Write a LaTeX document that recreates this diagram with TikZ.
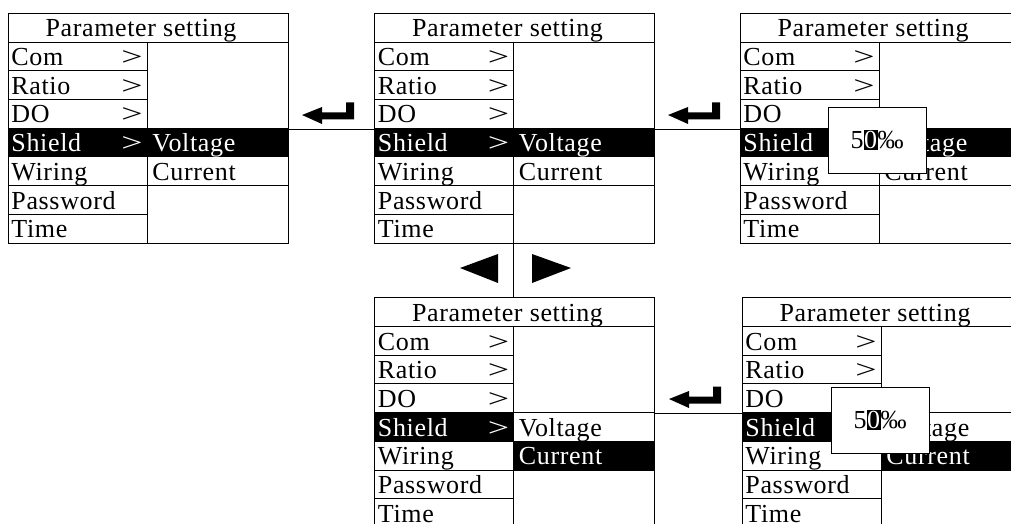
\documentclass[tikz,border=0pt]{standalone}
\usepackage{fontspec}
\setmainfont[LetterSpace=2.5]{Liberation Serif}

\tikzset{
  item/.style={anchor=base west,inner sep=0pt},
  popup/.style={draw,fill=white,minimum width=98pt,minimum height=66pt,inner sep=0pt},
  enterkey/.pic={\fill (0,0) -- (20,-8) -- (20,-2.5) -- (44,-2.5) -- (44,-12.5) -- (52,-12.5) -- (52,4.5) -- (20,4.5) -- (20,9) -- cycle;}
}

\newcommand{\curdigit}[1]{{\setlength{\fboxsep}{0pt}\colorbox{black}{\rule[-2pt]{0pt}{20pt}\makebox[14pt]{\textcolor{white}{#1}}}}}

% name, left, top, selected entry on the right (4 = Voltage, 5 = Current)
\newcommand{\paramscreen}[4]{%
  \ifnum#4=4 \def\voltcol{white}\def\currcol{black}\else\def\voltcol{black}\def\currcol{white}\fi
  \begin{scope}[shift={(#2,#3)}]
    \fill (0,115.1) rectangle (139,143.8);
    \fill (139,{29+(#4-1)*28.71}) rectangle ++(141,28.71);
    \draw (0,0) rectangle (280,230);
    \draw (0,29) -- (280,29);
    \draw (139,29) -- (139,230);
    \foreach \i in {1,...,6}
      \draw (0,{29+\i*28.71}) -- (139,{29+\i*28.71});
    \draw (139,115.1) -- (280,115.1) (139,172.5) -- (280,172.5);
    \node[anchor=base,inner sep=0pt] (#1-title) at (133,24) {Parameter setting};
    \foreach \t/\c [count=\i] in {Com/black,Ratio/black,DO/black,Shield/white,Wiring/black,Password/black,Time/black}
      \node[item,text=\c] (#1-row\i) at (3,{23.8+\i*28.71}) {\t};
    \foreach \i/\c in {1/black,2/black,3/black,4/white}
      \node[anchor=base,inner sep=0pt,text=\c] (#1-more\i) at (124,{23.8+\i*28.71}) {\scalebox{1.45}[1]{>}};
    \node[item,text=\voltcol] (#1-volt) at (144,{23.8+4*28.71}) {Voltage};
    \node[item,text=\currcol] (#1-curr) at (144,{23.8+5*28.71}) {Current};
    \coordinate (#1-in) at (0,116);
    \coordinate (#1-out) at (280,116);
    \coordinate (#1-up) at (139,0);
    \coordinate (#1-down) at (139,230);
  \end{scope}}

\begin{document}
\begin{tikzpicture}[x=1pt,y=-1pt,line width=0.9pt,font=\fontsize{26}{28}\selectfont]
\useasboundingbox (0,0) rectangle (1011,524);
\clip (0,0) rectangle (1011,524);

\paramscreen{p1}{8}{13}{4}
\paramscreen{p2}{374.5}{13}{4}
\paramscreen{p3}{740}{13}{4}
\paramscreen{p4}{374.5}{297.5}{5}
\paramscreen{p5}{742}{297.5}{5}

% value boxes
\node[popup] (val3) at (877,140) {5\curdigit{0}‰};
\node[popup] (val5) at (880,420) {5\curdigit{0}‰};

\draw (p1-out) -- (p2-in);
\draw (p2-out) -- (p3-in);
\draw (p2-down) -- (p4-up);
\draw (p4-out) -- (p5-in);

\pic at (302,115) {enterkey};
\pic at (668,115) {enterkey};
\pic at (669,399) {enterkey};

\fill (460,268) -- (498,254) -- (498,283) -- cycle;
\fill (571,268) -- (532,254) -- (532,283) -- cycle;

\end{tikzpicture}
\end{document}
